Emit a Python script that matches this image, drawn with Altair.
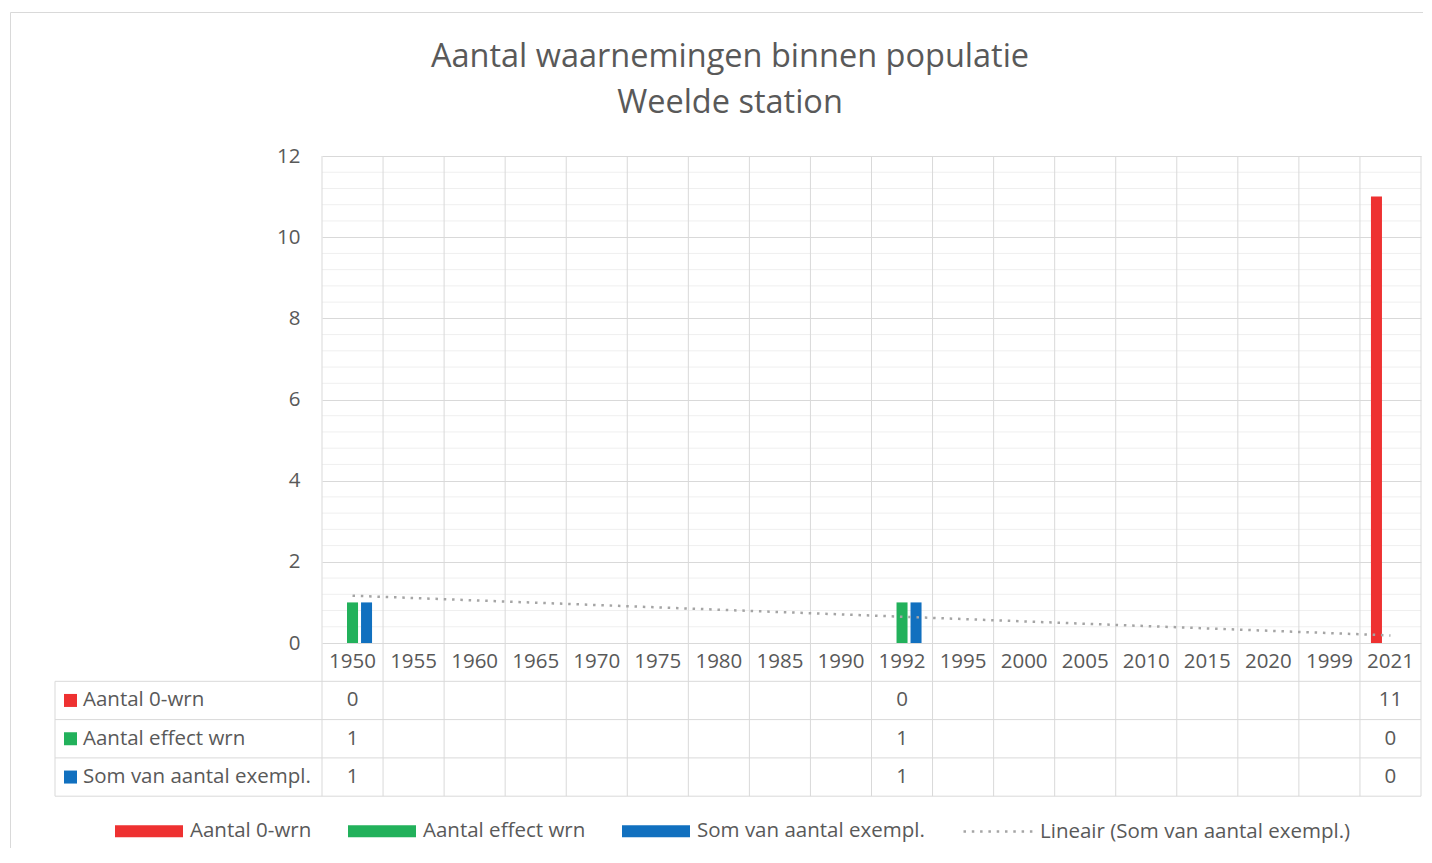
import altair as alt
import pandas as pd

# ---- data ----
categories = ["1950", "1955", "1960", "1965", "1970", "1975", "1980", "1985", "1990",
              "1992", "1995", "2000", "2005", "2010", "2015", "2020", "1999", "2021"]
series = ["Aantal 0-wrn", "Aantal effect wrn", "Som van aantal exempl."]
aantal_0_wrn = [0, None, None, None, None, None, None, None, None,
                0, None, None, None, None, None, None, None, 11]
aantal_effect_wrn = [1, None, None, None, None, None, None, None, None,
                     1, None, None, None, None, None, None, None, 0]
som_aantal_exempl = [1, None, None, None, None, None, None, None, None,
                     1, None, None, None, None, None, None, None, 0]
trend_name = "Lineair (Som van aantal exempl.)"
title_lines = ["Aantal waarnemingen binnen populatie", "Weelde station"]
y_ticks = [0, 2, 4, 6, 8, 10, 12]

colors = ["#EE3131", "#22B15B", "#1170BF"]
TXT = "#595959"
GRID = "#d9d9d9"
FONT = "Open Sans"
FS = 20.5

# ---- tables ----
values_by_series = [aantal_0_wrn, aantal_effect_wrn, som_aantal_exempl]
rows = []
for s, vals in zip(series, values_by_series):
    for i, (c, v) in enumerate(zip(categories, vals)):
        rows.append({"category": c, "idx": i + 1, "series": s, "value": v})
long_df = pd.DataFrame(rows)
cat_df = pd.DataFrame({"category": categories, "idx": list(range(1, len(categories) + 1))})
som_df = pd.DataFrame({"idx": list(range(1, len(categories) + 1)), "val": som_aantal_exempl})
minor_df = pd.DataFrame({"v": [round(k * 0.4, 1) for k in range(1, 30) if k % 5 != 0]})
dummy = pd.DataFrame({"a": [0]})

W, H = 1099, 487
ROW_H = 38.3

xscale = alt.Scale(domain=categories, paddingInner=0, paddingOuter=0)
yscale = alt.Scale(domain=[0, 12], nice=False)

x_axis = alt.Axis(title=None, labelAngle=0, labelPadding=8, grid=False, domain=False,
                  ticks=False, labelOverlap=False, labelFontSize=FS, labelFont=FONT,
                  labelColor=TXT)
y_axis = alt.Axis(values=y_ticks, title=None, grid=True, gridColor=GRID, domain=False,
                  ticks=False, labelPadding=22, labelFontSize=FS, labelFont=FONT,
                  labelColor=TXT)


def X(**kw):
    return alt.X("category:N", scale=xscale, sort=categories, axis=x_axis, **kw)


def Y(field):
    return alt.Y(field, scale=yscale, axis=y_axis)


layers = []

# chart-area border
layers.append(
    alt.Chart(dummy).mark_rect(fillOpacity=0, stroke=GRID, strokeWidth=1).encode(
        x=alt.value(-311.5), x2=alt.value(1300), y=alt.value(-143.5), y2=alt.value(900)
    )
)

# minor horizontal grid
layers.append(
    alt.Chart(minor_df).mark_rule(color="#efefef", strokeWidth=1).encode(
        y=Y("v:Q"), x=alt.value(0), x2=alt.value(W)
    )
)

# vertical category lines (plot + data table)
layers.append(
    alt.Chart(cat_df).mark_rule(color=GRID, strokeWidth=1).encode(
        x=X(bandPosition=0), y=alt.value(0), y2=alt.value(H + 4 * ROW_H)
    )
)
layers.append(
    alt.Chart(dummy).mark_rule(color=GRID, strokeWidth=1).encode(
        x=alt.value(W), y=alt.value(0), y2=alt.value(H + 4 * ROW_H)
    )
)
# table horizontal lines
for k in range(1, 5):
    layers.append(
        alt.Chart(dummy).mark_rule(color=GRID, strokeWidth=1).encode(
            x=alt.value(-267), x2=alt.value(W), y=alt.value(H + k * ROW_H)
        )
    )
layers.append(
    alt.Chart(dummy).mark_rule(color=GRID, strokeWidth=1).encode(
        x=alt.value(-267), y=alt.value(H + ROW_H), y2=alt.value(H + 4 * ROW_H)
    )
)

# bars
bars = alt.Chart(long_df).transform_filter("datum.value != null").mark_bar().encode(
    x=X(),
    xOffset=alt.XOffset("series:N", sort=series,
                        scale=alt.Scale(domain=series, paddingInner=0.214, paddingOuter=0.786)),
    y=Y("value:Q"),
    color=alt.Color("series:N", sort=series, scale=alt.Scale(domain=series, range=colors),
                    legend=alt.Legend(orient="none", legendX=-207, legendY=641,
                                      direction="horizontal", title=None,
                                      symbolType="M-1,-0.18H1V0.18H-1Z", symbolSize=4624,
                                      symbolStrokeWidth=0, labelFontSize=FS, labelFont=FONT,
                                      labelColor=TXT, labelOffset=7, columnPadding=36,
                                      padding=0, labelLimit=500)),
)
layers.append(bars)

# linear trendline of "Som van aantal exempl."
trend = (
    alt.Chart(som_df)
    .transform_filter("datum.val != null")
    .transform_regression("idx", "val", method="linear", extent=[1, len(categories)])
    .transform_lookup(lookup="idx", from_=alt.LookupData(cat_df, "idx", ["category"]))
    .transform_calculate(trend=f'"{trend_name}"')
    .mark_line(color="#A5A5A5", strokeWidth=2.5)
    .encode(
        x=X(),
        y=Y("val:Q"),
        strokeDash=alt.StrokeDash(
            "trend:N", scale=alt.Scale(domain=[trend_name], range=[[2.5, 5.8]]),
            legend=alt.Legend(orient="none", legendX=640, legendY=639, title=None,
                              symbolType="stroke", symbolSize=4900, symbolStrokeColor="#A5A5A5",
                              symbolStrokeWidth=2.5, labelFontSize=FS, labelFont=FONT,
                              labelColor=TXT, labelOffset=5, padding=0, labelLimit=500),
        ),
    )
)
layers.append(trend)

# data table rows
for i, s in enumerate(series):
    cy = H + ROW_H * (i + 1) + ROW_H / 2
    layers.append(
        alt.Chart(long_df)
        .transform_filter(f'datum.series == "{s}" && datum.value != null')
        .mark_text(fontSize=FS, font=FONT, color=TXT, baseline="middle")
        .encode(x=X(), y=alt.value(cy), text=alt.Text("value:Q", format="d"))
    )
    layers.append(
        alt.Chart(dummy).mark_text(fontSize=FS, font=FONT, color=TXT, align="left",
                                   baseline="middle")
        .encode(x=alt.value(-239), y=alt.value(cy), text=alt.value(s))
    )
    layers.append(
        alt.Chart(dummy).mark_square(size=169, filled=True, color=colors[i], opacity=1)
        .encode(x=alt.value(-251.5), y=alt.value(cy))
    )

# title
for j, t in enumerate(title_lines):
    layers.append(
        alt.Chart(dummy).mark_text(fontSize=32.5, font=FONT, color=TXT, align="center",
                                   baseline="middle")
        .encode(x=alt.value(408), y=alt.value(-99 + 46 * j), text=alt.value(t))
    )

chart = (
    alt.layer(*layers)
    .properties(width=W, height=H, autosize="none",
                padding={"left": 314, "top": 148, "right": 2, "bottom": 205},
                background="white")
    .configure_view(strokeWidth=0)
)

chart.save("out.html", embed_options={"renderer": "svg", "actions": False})
